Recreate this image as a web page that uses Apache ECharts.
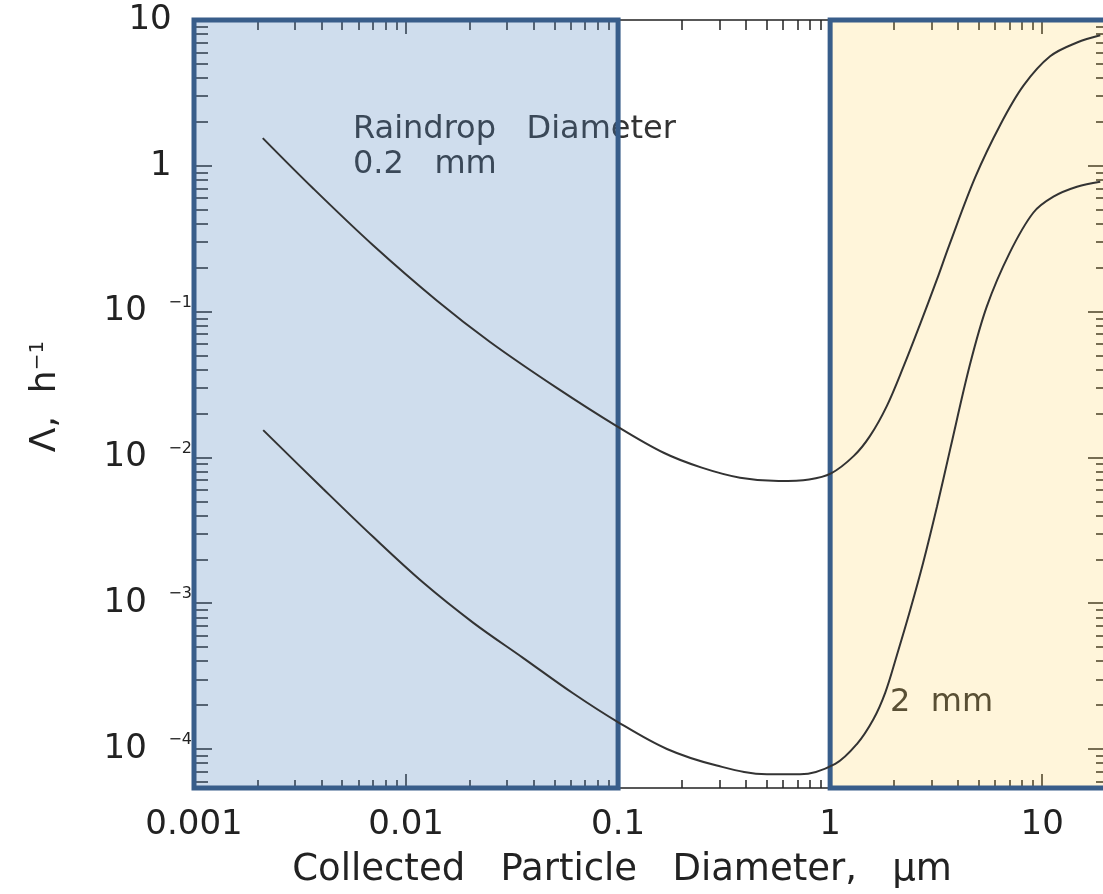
<!DOCTYPE html>
<html>
<head>
<meta charset="utf-8">
<script src="https://cdn.jsdelivr.net/npm/echarts@6/dist/echarts.min.js"></script>
<style>
html,body{margin:0;padding:0;background:#ffffff;overflow:hidden;width:1103px;height:894px;}
#chart{width:1112px;height:894px;}
</style>
</head>
<body>
<div id="chart"></div>
<script>
// ---- data ----
// Raindrop diameter 0.2 mm (upper curve)
const smallDropX = [0.00211, 0.00364, 0.00699, 0.0140, 0.0249, 0.0516, 0.0989, 0.164, 0.248, 0.376, 0.571, 0.796, 1.01, 1.29, 1.54, 1.85, 2.22, 2.66, 3.19, 3.64, 4.83, 6.34, 8.16, 10.9, 14.6, 18.8];
const smallDropY = [1.549, 0.7015, 0.2851, 0.1187, 0.0619, 0.02985, 0.01633, 0.01076, 0.00851, 0.00726, 0.00689, 0.00706, 0.00777, 0.0102, 0.0140, 0.02249, 0.04207, 0.08247, 0.1661, 0.2835, 0.8318, 1.905, 3.543, 5.636, 7.006, 7.852];
// Raindrop diameter 2 mm (lower curve)
const largeDropX = [0.00212, 0.00406, 0.00699, 0.0120, 0.0207, 0.0356, 0.0613, 0.0989, 0.170, 0.292, 0.503, 0.722, 1.057, 1.337, 1.600, 1.820, 2.061, 2.382, 2.748, 3.192, 3.681, 4.571, 5.483, 6.998, 9.078, 11.30, 14.59, 18.79];
const largeDropY = [0.01538, 0.006095, 0.002851, 0.001390, 7.36e-4, 4.22e-4, 2.41e-4, 1.542e-4, 1.0e-4, 7.7e-5, 6.7e-5, 6.7e-5, 7.91e-5, 1.081e-4, 1.600e-4, 2.438e-4, 4.365e-4, 8.91e-4, 1.901e-3, 4.603e-3, 0.01135, 0.04365, 0.1086, 0.250, 0.4764, 0.6138, 0.7178, 0.7762];

const xTickLabels = [0.001, 0.01, 0.1, 1, 10];
const yTickLabels = [1e-4, 1e-3, 1e-2, 1e-1, 1, 10];
const xRange = [0.001, 20];
const yRange = [5.4e-5, 10];
const blueBand = [0.001, 0.1];
const yellowBand = [1, 20];
const annotations = ['Raindrop   Diameter\n0.2   mm', '2  mm'];

// ---- minor tick values (2..9 within each decade) ----
function minorTicks(lo, hi) {
  const out = [];
  for (let e = -6; e <= 2; e++) {
    for (let m = 2; m <= 9; m++) {
      const v = +(m * Math.pow(10, e)).toPrecision(6);
      if (v >= lo && v <= hi) out.push(v);
    }
  }
  return out;
}
const xMinor = minorTicks(xRange[0], xRange[1]);
const yMinor = minorTicks(yRange[0], yRange[1]);

const FONT = '"DejaVu Sans", sans-serif';
const INK = '#222222';
const tickLine = { color: INK, width: 1.5 };

function zip(xs, ys) { return xs.map((x, i) => [x, ys[i]]); }

function xAxisDef(pos, major, showLabel) {
  return {
    type: 'log', logBase: 10, min: xRange[0], max: xRange[1], position: pos,
    axisLine: { show: major, onZero: false, lineStyle: tickLine },
    axisTick: { show: true, inside: true, length: major ? 14 : (pos === 'bottom' ? 8 : 10),
                customValues: major ? xTickLabels : xMinor, lineStyle: tickLine },
    axisLabel: showLabel ? {
      customValues: xTickLabels, margin: 20, fontSize: 34, fontFamily: FONT, color: INK,
      formatter: v => String(v)
    } : { show: false },
    splitLine: { show: false },
    minorTick: { show: false }
  };
}
function yAxisDef(pos, major, showLabel) {
  return {
    type: 'log', logBase: 10, min: yRange[0], max: yRange[1], position: pos,
    axisLine: { show: major, onZero: false, lineStyle: tickLine },
    axisTick: { show: true, inside: true, length: major ? 18 : (pos === 'left' ? 14 : 10),
                customValues: major ? yTickLabels : yMinor, lineStyle: tickLine },
    axisLabel: showLabel ? {
      customValues: yTickLabels, margin: 2, color: INK, fontFamily: FONT,
      formatter: v => {
        const e = Math.round(Math.log10(v));
        if (e >= 0) return '{n|' + (e === 0 ? '1' : '10') + '}{p|    }';
        return '{n|10  }{s|\u2212' + (-e) + '}';
      },
      rich: {
        n: { fontSize: 34, fontFamily: FONT, color: INK },
        s: { fontSize: 16, fontFamily: FONT, color: INK, verticalAlign: 'top' },
        p: { fontSize: 16, fontFamily: FONT }
      }
    } : { show: false },
    splitLine: { show: false },
    minorTick: { show: false }
  };
}

const xAxes = [xAxisDef('bottom', true, true), xAxisDef('bottom', false, false), xAxisDef('top', true, false), xAxisDef('top', false, false)];
xAxes[0].name = 'Collected   Particle   Diameter,   \u03bcm';
xAxes[0].nameLocation = 'middle';
xAxes[0].nameGap = 64;
xAxes[0].nameTextStyle = { fontSize: 37, fontFamily: FONT, color: INK, padding: [0, 56, 0, 0] };

const yAxes = [yAxisDef('left', true, true), yAxisDef('left', false, false), yAxisDef('right', true, false), yAxisDef('right', false, false)];
yAxes[0].name = '{a|\u039b,  h}{s|\u22121}';
yAxes[0].nameLocation = 'middle';
yAxes[0].nameGap = 130;
yAxes[0].nameRotate = 90;
yAxes[0].nameTextStyle = {
  fontSize: 36, fontFamily: FONT, color: INK, padding: [0, 0, 0, 15],
  rich: {
    a: { fontSize: 36, fontFamily: FONT, color: INK },
    s: { fontSize: 20, fontFamily: FONT, color: INK, verticalAlign: 'top' }
  }
};

const curveStyle = { color: '#333333', width: 2 };

const option = {
  animation: false,
  backgroundColor: '#ffffff',
  grid: { left: 194, top: 20, width: 912, height: 769, containLabel: false },
  xAxis: xAxes,
  yAxis: yAxes,
  graphic: [
    { type: 'text', left: 353, top: 112, z: 1,
      style: { text: annotations[0], font: '32px "DejaVu Sans"', fill: '#333333', lineHeight: 35 } },
    { type: 'text', left: 890, top: 687, z: 1,
      style: { text: annotations[1], font: '32px "DejaVu Sans"', fill: '#333333' } }
  ],
  series: [
    { type: 'line', name: '0.2 mm', xAxisIndex: 0, yAxisIndex: 0, z: 2,
      data: zip(smallDropX, smallDropY), showSymbol: false, smooth: 0.35,
      lineStyle: curveStyle, silent: true },
    { type: 'line', name: '2 mm', xAxisIndex: 0, yAxisIndex: 0, z: 2,
      data: zip(largeDropX, largeDropY), showSymbol: false, smooth: 0.35,
      lineStyle: curveStyle, silent: true },
    { type: 'line', name: 'bands', xAxisIndex: 0, yAxisIndex: 0, z: 10, clip: false,
      data: [], silent: true,
      markArea: {
        silent: true,
        label: { show: false },
        data: [
          [{ xAxis: blueBand[0], yAxis: yRange[0], itemStyle: { color: 'rgba(79,129,189,0.27)', borderColor: '#385d8a', borderWidth: 5 } },
           { xAxis: blueBand[1], yAxis: yRange[1] }],
          [{ xAxis: yellowBand[0], yAxis: yRange[0], itemStyle: { color: 'rgba(255,200,60,0.19)', borderColor: '#385d8a', borderWidth: 5 } },
           { xAxis: yellowBand[1], yAxis: yRange[1] }]
        ]
      }
    }
  ]
};

const chart = echarts.init(document.getElementById('chart'), null, { renderer: 'canvas' });
chart.setOption(option);
</script>
</body>
</html>
